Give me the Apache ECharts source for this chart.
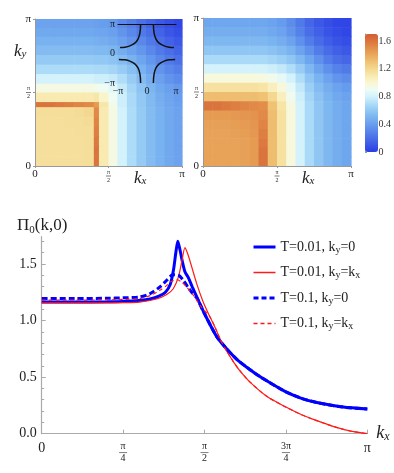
<!DOCTYPE html>
<html>
<head>
<meta charset="utf-8">
<script src="https://cdn.jsdelivr.net/npm/echarts@6/dist/echarts.min.js"></script>
<style>
html, body { margin: 0; padding: 0; background: #fff; }
#main { width: 394px; height: 473px; }
</style>
</head>
<body>
<div id="main"></div>
<script>
var FONT = "'Liberation Serif', 'DejaVu Serif', serif";
var INK = '#222';
var BLUE = '#0000ff';
var RED = '#ff1a1a';

// heatmap cell edges (kx, ky in units of pi); left map has a narrow ridge cell
var edgesLeft = [0, 0.067, 0.133, 0.2, 0.267, 0.333, 0.40, 0.435, 0.5, 0.56, 0.625, 0.69, 0.755, 0.82, 0.88, 0.94, 1.0];
var edgesRight = [0, 0.0625, 0.125, 0.1875, 0.25, 0.3125, 0.375, 0.4375, 0.5, 0.5625, 0.625, 0.6875, 0.75, 0.8125, 0.875, 0.9375, 1.0];

// left map, rows from ky=pi (top) down to ky=0
var mapLeft = [
    [0.42,0.42,0.42,0.42,0.42,0.42,0.41,0.40,0.38,0.32,0.27,0.21,0.16,0.11,0.07,0.04],
    [0.45,0.45,0.45,0.45,0.45,0.45,0.44,0.43,0.41,0.36,0.31,0.25,0.20,0.15,0.10,0.07],
    [0.49,0.49,0.49,0.49,0.49,0.49,0.48,0.47,0.45,0.41,0.36,0.31,0.25,0.20,0.15,0.11],
    [0.54,0.54,0.54,0.54,0.54,0.54,0.53,0.53,0.51,0.47,0.42,0.37,0.31,0.25,0.20,0.16],
    [0.61,0.61,0.61,0.61,0.61,0.61,0.60,0.60,0.58,0.54,0.49,0.43,0.37,0.31,0.25,0.21],
    [0.69,0.69,0.69,0.69,0.69,0.69,0.68,0.68,0.66,0.62,0.56,0.49,0.42,0.36,0.31,0.27],
    [0.80,0.80,0.80,0.80,0.80,0.80,0.78,0.78,0.76,0.70,0.62,0.54,0.47,0.41,0.36,0.32],
    [0.95,0.95,0.95,0.95,0.95,0.95,0.93,0.90,0.85,0.76,0.66,0.58,0.51,0.45,0.41,0.38],
    [1.10,1.10,1.10,1.10,1.10,1.10,1.12,1.02,0.90,0.78,0.68,0.60,0.53,0.47,0.43,0.40],
    [1.60,1.60,1.58,1.56,1.54,1.52,1.45,1.12,0.93,0.78,0.68,0.60,0.53,0.48,0.44,0.41],
    [1.17,1.17,1.17,1.17,1.18,1.20,1.52,1.10,0.95,0.80,0.69,0.61,0.54,0.49,0.45,0.42],
    [1.16,1.16,1.16,1.17,1.17,1.18,1.54,1.10,0.95,0.80,0.69,0.61,0.54,0.49,0.45,0.42],
    [1.16,1.16,1.16,1.16,1.17,1.17,1.56,1.10,0.95,0.80,0.69,0.61,0.54,0.49,0.45,0.42],
    [1.16,1.16,1.16,1.16,1.16,1.17,1.58,1.10,0.95,0.80,0.69,0.61,0.54,0.49,0.45,0.42],
    [1.16,1.16,1.16,1.16,1.16,1.17,1.60,1.10,0.95,0.80,0.69,0.61,0.54,0.49,0.45,0.42],
    [1.16,1.16,1.16,1.16,1.16,1.17,1.60,1.10,0.95,0.80,0.69,0.61,0.54,0.49,0.45,0.42]
];

// right map, same layout
var mapRight = [
    [0.44,0.44,0.44,0.44,0.44,0.44,0.44,0.42,0.39,0.33,0.25,0.17,0.11,0.07,0.04,0.03],
    [0.47,0.47,0.47,0.47,0.47,0.47,0.47,0.45,0.42,0.36,0.28,0.20,0.14,0.09,0.06,0.04],
    [0.52,0.52,0.52,0.52,0.52,0.52,0.52,0.50,0.47,0.42,0.34,0.26,0.19,0.13,0.09,0.07],
    [0.59,0.59,0.59,0.59,0.59,0.59,0.59,0.57,0.54,0.50,0.42,0.34,0.26,0.19,0.14,0.11],
    [0.68,0.68,0.68,0.68,0.68,0.68,0.68,0.66,0.63,0.59,0.52,0.43,0.34,0.26,0.20,0.17],
    [0.80,0.80,0.80,0.80,0.80,0.80,0.80,0.78,0.75,0.70,0.62,0.52,0.42,0.34,0.28,0.25],
    [0.97,0.97,0.97,0.97,0.97,0.97,0.96,0.92,0.87,0.80,0.70,0.59,0.50,0.42,0.36,0.33],
    [1.15,1.15,1.15,1.15,1.15,1.15,1.13,1.06,0.98,0.87,0.75,0.63,0.54,0.47,0.42,0.39],
    [1.32,1.32,1.32,1.32,1.32,1.32,1.30,1.20,1.06,0.92,0.78,0.66,0.57,0.50,0.45,0.42],
    [1.60,1.60,1.58,1.56,1.54,1.52,1.50,1.30,1.13,0.96,0.80,0.68,0.59,0.52,0.47,0.44],
    [1.45,1.45,1.45,1.46,1.47,1.48,1.52,1.32,1.15,0.97,0.80,0.68,0.59,0.52,0.47,0.44],
    [1.43,1.43,1.43,1.44,1.45,1.47,1.54,1.32,1.15,0.97,0.80,0.68,0.59,0.52,0.47,0.44],
    [1.42,1.42,1.42,1.43,1.44,1.46,1.56,1.32,1.15,0.97,0.80,0.68,0.59,0.52,0.47,0.44],
    [1.42,1.42,1.42,1.42,1.43,1.45,1.58,1.32,1.15,0.97,0.80,0.68,0.59,0.52,0.47,0.44],
    [1.42,1.42,1.42,1.42,1.43,1.45,1.60,1.32,1.15,0.97,0.80,0.68,0.59,0.52,0.47,0.44],
    [1.42,1.42,1.42,1.42,1.43,1.45,1.60,1.32,1.15,0.97,0.80,0.68,0.59,0.52,0.47,0.44]
];

var mapColors = ['#2a3de6','#3a56e6','#4a6ee8','#5886ea','#689eee','#7ab4f0','#92c8f4','#b0def8','#d4f2fc',
    '#eefcf4','#fbf6d2','#f8eab0','#f4d890','#efc274','#e9a85c','#e28e4a','#da743e','#d45c34'];

// inset fermi surface arcs (units of pi)
var arcTLx = [-0.22,-0.245,-0.31,-0.42,-0.59,-0.76,-0.93];
var arcTLy = [1.0,0.69,0.49,0.35,0.26,0.215,0.2];
var arcTRx = [0.22,0.245,0.31,0.42,0.59,0.76,0.93];
var arcTRy = [1.0,0.69,0.49,0.35,0.26,0.215,0.2];
var arcBLx = [-0.97,-0.76,-0.59,-0.42,-0.31,-0.245,-0.22];
var arcBLy = [-0.2,-0.215,-0.26,-0.35,-0.49,-0.69,-1.0];
var arcBRx = [0.97,0.76,0.59,0.42,0.31,0.245,0.22];
var arcBRy = [-0.2,-0.215,-0.26,-0.35,-0.49,-0.69,-1.0];

// line chart, kx in units of pi
var kxBlue = [0,0.1,0.2,0.25,0.3,0.333,0.36,0.38,0.395,0.405,0.412,0.418,0.425,0.432,0.44,0.45,0.462,0.476,0.5,0.537,0.568,0.6,0.64,0.67,0.71,0.75,0.8,0.845,0.926,1.0];
var piBlue = [1.163,1.163,1.165,1.168,1.177,1.19,1.215,1.25,1.32,1.45,1.6,1.70,1.62,1.52,1.43,1.38,1.30,1.21,1.06,0.86,0.75,0.655,0.565,0.505,0.435,0.37,0.31,0.275,0.235,0.218];
var kxRed = [0,0.1,0.2,0.25,0.3,0.353,0.384,0.404,0.42,0.43,0.44,0.447,0.455,0.476,0.496,0.517,0.537,0.548,0.568,0.589,0.609,0.64,0.691,0.75,0.8,0.845,0.9,0.95,1.0];
var piRed = [1.155,1.155,1.156,1.157,1.162,1.19,1.229,1.28,1.385,1.517,1.644,1.60,1.53,1.326,1.164,1.03,0.91,0.835,0.73,0.635,0.555,0.455,0.33,0.235,0.165,0.115,0.06,0.022,0.0];
var kxBlueDash = [0,0.1,0.2,0.25,0.302,0.333,0.363,0.384,0.399,0.404,0.42,0.435,0.45,0.462,0.476,0.5,0.537,0.568,0.6,0.64,0.67,0.71,0.75,0.8,0.845,0.926,1.0];
var piBlueDash = [1.194,1.194,1.196,1.2,1.208,1.238,1.296,1.355,1.40,1.405,1.40,1.355,1.29,1.245,1.20,1.06,0.86,0.75,0.655,0.565,0.505,0.435,0.37,0.31,0.275,0.235,0.218];
var kxRedDash = [0,0.1,0.2,0.25,0.302,0.333,0.363,0.384,0.399,0.415,0.43,0.445,0.466,0.49,0.517,0.537,0.548,0.568,0.589,0.609,0.64,0.691,0.75,0.8,0.845,0.9,0.95,1.0];
var piRedDash = [1.18,1.18,1.182,1.186,1.194,1.22,1.267,1.31,1.346,1.36,1.34,1.296,1.223,1.12,1.03,0.91,0.835,0.73,0.635,0.555,0.455,0.33,0.235,0.165,0.115,0.06,0.022,0.0];

var seriesNames = ['T=0.01, ky=0', 'T=0.01, ky=kx', 'T=0.1, ky=0', 'T=0.1, ky=kx'];

var xTicks = [0, 0.25, 0.5, 0.75, 1];
var xTickLabels = ['0', 'π/4', 'π/2', '3π/4', 'π'];
var yMajor = [0, 0.5, 1, 1.5];
var yMinor = [0.1,0.2,0.3,0.4,0.6,0.7,0.8,0.9,1.1,1.2,1.3,1.4,1.6,1.7];
var heatTicks = [0, 0.5, 1];
var heatTickLabels = ['0', 'π/2', 'π'];
var insetTicks = [-1, 0, 1];
var insetTickLabels = ['−π', '0', 'π'];

// [kx centre, ky centre, value, column, row]
function toCells(rows, edges) {
    var out = [];
    for (var r = 0; r < rows.length; r++) {
        var j = rows.length - 1 - r;
        for (var i = 0; i < rows[r].length; i++) {
            out.push([(edges[i] + edges[i + 1]) / 2, (edges[j] + edges[j + 1]) / 2, rows[r][i], i, j]);
        }
    }
    return out;
}
function pairs(xs, ys) {
    return xs.map(function (x, i) { return [x, ys[i]]; });
}
function tex(ticks, labels) {
    return function (v) {
        var i = ticks.indexOf(v);
        if (i < 0) return '';
        var p = labels[i].split('/');
        if (p.length === 2) return '{n|' + p[0] + '}\n{b| }\n{d|' + p[1] + '}';
        return '{m|' + labels[i] + '}';
    };
}
function fracRich(big, small, barW) {
    return {
        m: { fontFamily: FONT, fontSize: big, color: INK, align: 'center' },
        n: { fontFamily: FONT, fontSize: small, lineHeight: small, color: INK, align: 'center' },
        d: { fontFamily: FONT, fontSize: small, lineHeight: small, color: INK, align: 'center' },
        b: { width: barW, height: 0.7, lineHeight: 2, backgroundColor: '#444', align: 'center' }
    };
}

function heatX(grid) {
    return {
        type: 'value', gridIndex: grid, position: 'bottom', min: 0, max: 1, interval: 0.5, z: 5,
        axisLine: { show: true, lineStyle: { color: '#999', width: 1 } },
        axisTick: { show: true, inside: false, length: 2, lineStyle: { color: '#999' } },
        splitLine: { show: false },
        axisLabel: { margin: 3, formatter: tex(heatTicks, heatTickLabels), rich: fracRich(11, 6, 5) }
    };
}
function heatY(grid) {
    return {
        type: 'value', gridIndex: grid, position: 'left', min: 0, max: 1, interval: 0.5, z: 5,
        axisLine: { show: true, lineStyle: { color: '#999', width: 1 } },
        axisTick: { show: true, inside: false, length: 2, lineStyle: { color: '#999' } },
        splitLine: { show: false },
        axisLabel: { margin: 4, formatter: tex(heatTicks, heatTickLabels), rich: fracRich(11, 6, 5) }
    };
}
function heatSeries(axis, rows, edges) {
    return {
        type: 'custom', xAxisIndex: axis, yAxisIndex: axis, data: toCells(rows, edges),
        encode: { x: 0, y: 1 }, silent: true, z: 1,
        renderItem: function (params, api) {
            var i = api.value(3), j = api.value(4);
            var p0 = api.coord([edges[i], edges[j]]);
            var p1 = api.coord([edges[i + 1], edges[j + 1]]);
            return {
                type: 'rect',
                shape: { x: p0[0], y: p1[1], width: p1[0] - p0[0] + 0.6, height: p0[1] - p1[1] + 0.6 },
                style: { fill: api.visual('color') }
            };
        }
    };
}

function curve(name, xs, ys, color, width, dash) {
    return {
        name: name, type: 'line', xAxisIndex: 2, yAxisIndex: 2,
        data: pairs(xs, ys), symbol: 'none', smooth: 0.25, z: 3,
        lineStyle: { color: color, width: width, type: dash || 'solid' },
        itemStyle: { color: color }
    };
}
function arc(xs, ys) {
    return {
        type: 'line', xAxisIndex: 3, yAxisIndex: 3, data: pairs(xs, ys),
        symbol: 'none', smooth: 0.4, silent: true, z: 6,
        lineStyle: { color: '#111', width: 1.5 }
    };
}
function kLabel(sub, left, top) {
    return {
        type: 'text', left: left, top: top, z: 10,
        style: { text: '{k|k}{s|' + sub + '}', rich: {
            k: { fontFamily: FONT, fontSize: 17, fontStyle: 'italic', lineHeight: 17, fill: INK },
            s: { fontFamily: FONT, fontSize: 11, fontStyle: 'italic', lineHeight: 10, verticalAlign: 'bottom', fill: INK }
        } }
    };
}

var subRich = { s: { fontFamily: FONT, fontSize: 10, lineHeight: 9, verticalAlign: 'bottom', color: INK } };

var chart = echarts.init(document.getElementById('main'), null, { renderer: 'canvas' });
chart.setOption({
    animation: false,
    backgroundColor: '#fff',
    textStyle: { fontFamily: FONT },
    title: {
        text: '{a|Π}{s|0}{a|(k,0)}', left: 12, top: 211,
        textStyle: { fontWeight: 'normal', rich: {
            a: { fontFamily: FONT, fontSize: 17, fontWeight: 'normal', lineHeight: 20, color: INK },
            s: { fontFamily: FONT, fontSize: 11, fontWeight: 'normal', lineHeight: 10, verticalAlign: 'bottom', color: INK }
        } }
    },
    grid: [
        { left: 35, top: 19, width: 147, height: 147 },
        { left: 203, top: 18, width: 148, height: 148 },
        { left: 41.7, top: 236.7, width: 325.6, height: 197 },
        { left: 118, top: 24, width: 58, height: 59 },
        { left: 365, top: 34, width: 13, height: 118 }
    ],
    xAxis: [
        heatX(0),
        heatX(1),
        {
            type: 'value', gridIndex: 2, position: 'bottom', min: 0, max: 1, interval: 0.25,
            name: '{k|k}{s|x}', nameLocation: 'end', nameGap: 9,
            nameTextStyle: { rich: {
                k: { fontFamily: FONT, fontSize: 18, fontStyle: 'italic', lineHeight: 18, color: INK },
                s: { fontFamily: FONT, fontSize: 12, fontStyle: 'italic', lineHeight: 10, verticalAlign: 'bottom', color: INK }
            } },
            axisLine: { lineStyle: { color: '#aaa', width: 1.2 } },
            axisTick: { inside: true, length: 4, lineStyle: { color: '#aaa' } },
            splitLine: { show: false },
            axisLabel: { margin: 8, formatter: tex(xTicks, xTickLabels), rich: fracRich(14, 10, 8) }
        },
        {
            type: 'value', gridIndex: 3, position: 'bottom', min: -1, max: 1, interval: 1, z: 10,
            axisLine: { show: false }, axisTick: { show: false }, splitLine: { show: false },
            axisLabel: { margin: 3, fontSize: 10, color: INK, fontFamily: FONT,
                formatter: function (v) { return insetTickLabels[insetTicks.indexOf(v)]; } }
        },
        {
            type: 'value', gridIndex: 3, position: 'top', min: -1, max: 1, z: 10,
            axisLine: { show: true, lineStyle: { color: '#111', width: 1 } },
            axisTick: { show: false }, axisLabel: { show: false }, splitLine: { show: false }
        },
        { type: 'value', gridIndex: 4, min: 0, max: 1, show: false }
    ],
    yAxis: [
        heatY(0),
        heatY(1),
        {
            type: 'value', gridIndex: 2, position: 'left', min: 0, max: 1.74,
            axisLine: { show: true, lineStyle: { color: '#aaa', width: 1.2 } },
            axisTick: { show: true, inside: true, length: 4, customValues: yMajor, lineStyle: { color: '#aaa' } },
            splitLine: { show: false },
            axisLabel: { margin: 5, fontSize: 14, color: INK, fontFamily: FONT, customValues: yMajor,
                formatter: function (v) { return v.toFixed(1); } }
        },
        {
            type: 'value', gridIndex: 3, position: 'left', min: -1, max: 1, interval: 1, z: 10,
            axisLine: { show: false }, axisTick: { show: false }, splitLine: { show: false },
            axisLabel: { margin: 3, fontSize: 10, color: INK, fontFamily: FONT,
                formatter: function (v) { return insetTickLabels[insetTicks.indexOf(v)]; } }
        },
        {
            type: 'value', gridIndex: 4, position: 'right', min: 0, max: 1.7, interval: 0.4,
            axisLine: { show: true, lineStyle: { color: '#999', width: 1 } },
            axisTick: { show: true, length: 2, lineStyle: { color: '#999' } },
            splitLine: { show: false },
            axisLabel: { margin: 2, fontSize: 10, color: '#333', fontFamily: FONT,
                formatter: function (v) { return v === 0 ? '0' : v.toFixed(1); } }
        },
        {
            type: 'value', gridIndex: 2, position: 'left', min: 0, max: 1.74,
            axisLine: { show: false },
            axisTick: { show: true, inside: true, length: 2.5, customValues: yMinor, lineStyle: { color: '#aaa' } },
            axisLabel: { show: false }, splitLine: { show: false }
        }
    ],
    visualMap: {
        type: 'continuous', min: 0, max: 1.7, seriesIndex: [0, 1], dimension: 2, calculable: false,
        orient: 'vertical', left: 365, top: 34, itemWidth: 13, itemHeight: 118, padding: 0,
        hoverLink: false, inRange: { color: mapColors }
    },
    legend: {
        orient: 'vertical', left: 247, top: 234, itemWidth: 22, itemHeight: 16, itemGap: 9.5,
        itemStyle: { opacity: 0 },
        data: [
            { name: seriesNames[0], lineStyle: { width: 3, color: BLUE, type: 'solid' } },
            { name: seriesNames[1], lineStyle: { width: 1.5, color: RED, type: 'solid' } },
            { name: seriesNames[2], lineStyle: { width: 3, color: BLUE, type: [5, 3] } },
            { name: seriesNames[3], lineStyle: { width: 1.5, color: RED, type: [4, 3], opacity: 1 } }
        ],
        formatter: function (n) { return n.replace(/k([xy])/g, 'k{s|$1}'); },
        textStyle: { fontFamily: FONT, fontSize: 14, lineHeight: 16, color: INK, rich: subRich }
    },
    graphic: [
        kLabel('y', 14, 43),
        kLabel('x', 134, 170),
        kLabel('x', 302, 170)
    ],
    series: [
        heatSeries(0, mapLeft, edgesLeft),
        heatSeries(1, mapRight, edgesRight),
        curve(seriesNames[0], kxBlue, piBlue, BLUE, 3),
        curve(seriesNames[1], kxRed, piRed, RED, 1.2),
        curve(seriesNames[2], kxBlueDash, piBlueDash, BLUE, 3, [6, 3]),
        curve(seriesNames[3], kxRedDash, piRedDash, RED, 1.2, [4, 3]),
        arc(arcTLx, arcTLy),
        arc(arcTRx, arcTRy),
        arc(arcBLx, arcBLy),
        arc(arcBRx, arcBRy)
    ]
});
</script>
</body>
</html>
